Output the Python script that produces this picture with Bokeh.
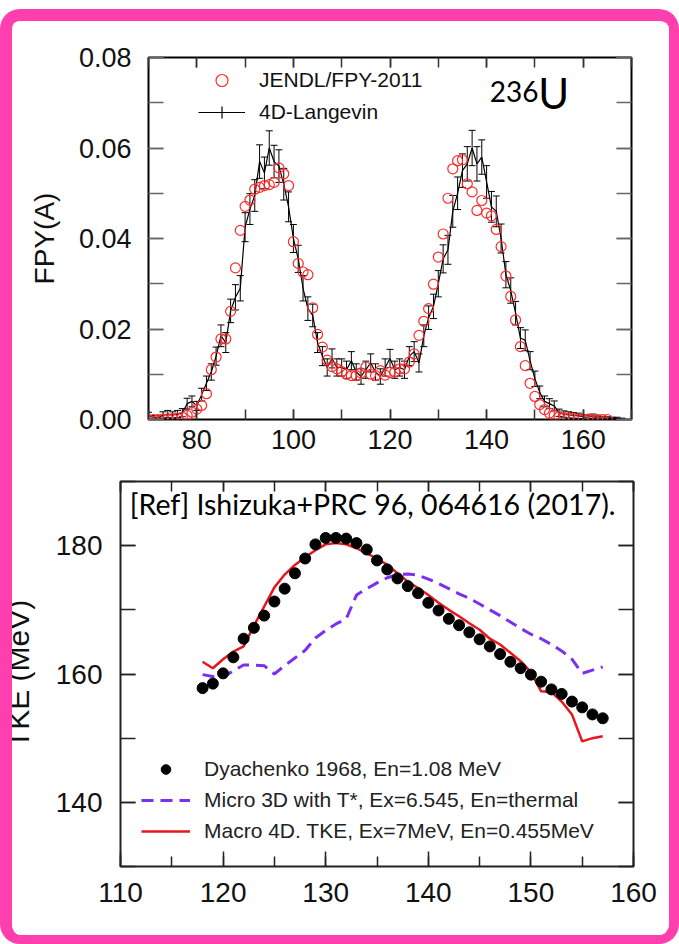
import numpy as np
from bokeh.plotting import figure
from bokeh.layouts import column
from bokeh.models import (LinearAxis, SingleIntervalTicker, Legend, LegendItem, Label,
                          ColumnDataSource, Whisker, TeeHead, NumeralTickFormatter,
                          Range1d, CustomJSTickFormatter)
from bokeh.embed import file_html
from bokeh.resources import INLINE

PINK = "#ff3fae"
FONT = "Liberation Sans"

# ---------------- top panel data: FPY(A) for 236U ----------------
jendl_A = list(range(70, 166))
jendl_fpy = [
    0.0000, 0.0000, 0.0000, 0.0001, 0.0001, 0.0002, 0.0003, 0.0005, 0.0009, 0.0016,   # 70-79
    0.0023, 0.0031, 0.0057, 0.0110, 0.0138, 0.0178, 0.0178, 0.0239, 0.0335, 0.0418,   # 80-89
    0.0471, 0.0485, 0.0509, 0.0513, 0.0517, 0.0519, 0.0524, 0.0556, 0.0543, 0.0517,   # 90-99
    0.0393, 0.0345, 0.0326, 0.0320, 0.0247, 0.0188, 0.0160, 0.0131, 0.0117, 0.0112,   # 100-109
    0.0106, 0.0100, 0.0097, 0.0097, 0.0103, 0.0116, 0.0100, 0.0097, 0.0108, 0.0098,   # 110-119
    0.0104, 0.0105, 0.0112, 0.0112, 0.0127, 0.0145, 0.0186, 0.0217, 0.0245, 0.0299,   # 120-129
    0.0359, 0.0410, 0.0489, 0.0554, 0.0572, 0.0574, 0.0521, 0.0503, 0.0462, 0.0484,   # 130-139
    0.0456, 0.0450, 0.0420, 0.0382, 0.0317, 0.0272, 0.0220, 0.0161, 0.0119, 0.0080,   # 140-149
    0.0051, 0.0033, 0.0022, 0.0014, 0.0009, 0.0006, 0.0004, 0.0003, 0.0002, 0.0001,   # 150-159
    0.0001, 0.0001, 0.0000, 0.0000, 0.0000, 0.0000,                                   # 160-165
]

lang_A = list(range(70, 169))
lang_fpy = [
    0.0008, 0.0004, 0.0003, 0.0010, 0.0012, 0.0010, 0.0012, 0.0015, 0.0035, 0.0040,   # 70-79
    0.0030, 0.0055, 0.0080, 0.0105, 0.0140, 0.0185, 0.0170, 0.0240, 0.0270, 0.0290,   # 80-89
    0.0425, 0.0465, 0.0495, 0.0570, 0.0545, 0.0600, 0.0570, 0.0560, 0.0520, 0.0470,   # 90-99
    0.0400, 0.0355, 0.0290, 0.0245, 0.0230, 0.0170, 0.0140, 0.0115, 0.0135, 0.0115,   # 100-109
    0.0115, 0.0110, 0.0130, 0.0105, 0.0095, 0.0110, 0.0125, 0.0105, 0.0095, 0.0115,   # 110-119
    0.0135, 0.0110, 0.0115, 0.0110, 0.0140, 0.0150, 0.0125, 0.0185, 0.0225, 0.0250,   # 120-129
    0.0300, 0.0355, 0.0375, 0.0460, 0.0500, 0.0550, 0.0565, 0.0600, 0.0565, 0.0580,   # 130-139
    0.0525, 0.0470, 0.0460, 0.0400, 0.0320, 0.0285, 0.0235, 0.0180, 0.0175, 0.0130,   # 140-149
    0.0090, 0.0060, 0.0040, 0.0035, 0.0030, 0.0015, 0.0012, 0.0010, 0.0009, 0.0008,   # 150-159
    0.0006, 0.0005, 0.0007, 0.0004, 0.0003, 0.0003, 0.0002, 0.0002, 0.0001,           # 160-168
]
lang_err = [
    0.0008, 0.0005, 0.0005, 0.0007, 0.0008, 0.0007, 0.0008, 0.0009,
    0.0012, 0.0012, 0.0010, 0.0014, 0.0016, 0.0018, 0.0020, 0.0024, 0.0022, 0.0026, 0.0028, 0.0028,
    0.0032, 0.0034, 0.0035, 0.0037, 0.0035, 0.0038, 0.0036, 0.0036, 0.0035, 0.0033,
    0.0031, 0.0030, 0.0028, 0.0026, 0.0025, 0.0022, 0.0021, 0.0019, 0.0021, 0.0019,
    0.0019, 0.0019, 0.0020, 0.0018, 0.0017, 0.0019, 0.0020, 0.0018, 0.0017, 0.0019, 0.0020, 0.0019, 0.0019, 0.0019,
    0.0021, 0.0022, 0.0020, 0.0024, 0.0026, 0.0027, 0.0029, 0.0031, 0.0032, 0.0035,
    0.0036, 0.0037, 0.0038, 0.0039, 0.0038, 0.0038, 0.0036, 0.0034, 0.0034, 0.0032,
    0.0029, 0.0028, 0.0026, 0.0023, 0.0023, 0.0020, 0.0017, 0.0014, 0.0012, 0.0011,
    0.0011, 0.0008, 0.0007, 0.0007, 0.0006, 0.0006, 0.0005, 0.0005, 0.0005, 0.0004, 0.0004,
    0.0003, 0.0003, 0.0003, 0.0002,
]

# ---------------- bottom panel data: TKE vs mass ----------------
tke_A = list(range(118, 158))
dyachenko_tke = [
    157.8, 158.5, 160.1, 162.6, 165.5, 167.2, 169.1, 171.3, 173.3, 175.7,   # 118-127
    178.0, 180.2, 181.2, 181.2, 181.1, 180.4, 179.4, 177.7, 176.3, 174.9,   # 128-137
    173.7, 172.6, 171.1, 169.9, 168.6, 167.6, 166.5, 165.4, 164.3, 163.1,   # 138-147
    161.9, 160.9, 159.9, 158.8, 157.6, 156.9, 155.7, 154.8, 153.7, 153.1,   # 148-157
]
micro3d_tke = [
    159.9, 159.6, 159.5, 160.5, 161.4, 161.4, 161.3, 160.0, 161.3, 162.5,   # 118-127
    163.7, 165.6, 166.8, 167.8, 168.6, 172.3, 173.3, 174.2, 175.0, 175.5,   # 128-137
    175.6, 175.4, 174.8, 174.1, 173.3, 172.5, 171.8, 170.9, 170.0, 169.1,   # 138-147
    168.1, 167.1, 166.2, 165.5, 164.6, 163.6, 162.3, 160.1, 160.6, 161.1,   # 148-157
]
macro4d_tke = [
    161.9, 160.9, 162.3, 163.5, 164.3, 167.5, 170.5, 173.5, 175.5, 177.0,   # 118-127
    178.2, 179.3, 180.2, 180.4, 180.2, 179.6, 178.8, 178.0, 177.0, 175.7,   # 128-137
    174.4, 173.4, 172.3, 171.1, 170.0, 169.0, 167.9, 166.9, 165.5, 164.6,   # 138-147
    163.3, 162.0, 160.3, 157.3, 157.2, 155.7, 153.7, 149.5, 150.0, 150.3,   # 148-157
]

top_xticks_interval = 20
top_yticks_interval = 0.02
bot_xticks_interval = 10
bot_yticks_interval = 20

blank = CustomJSTickFormatter(code="return ''")


def style_axis(ax, major_in, minor_in, color, labels=True, size="27px", standoff=12):
    ax.axis_line_color = None
    ax.major_tick_in = major_in
    ax.major_tick_out = 0
    ax.minor_tick_in = minor_in
    ax.minor_tick_out = 0
    ax.major_tick_line_color = color
    ax.minor_tick_line_color = color
    ax.major_tick_line_width = 1.5
    ax.minor_tick_line_width = 1.5
    if labels:
        ax.major_label_text_font = FONT
        ax.major_label_text_font_size = size
        ax.major_label_text_color = "#111111"
        ax.major_label_standoff = standoff
    else:
        ax.formatter = blank
        ax.major_label_standoff = 0


# ================= top figure =================
p1 = figure(width=657, height=449, x_range=Range1d(70, 170), y_range=Range1d(0, 0.08),
            output_backend="svg", toolbar_location=None,
            min_border_left=136, min_border_right=38, min_border_top=36, min_border_bottom=51)
p1.xgrid.grid_line_color = None
p1.ygrid.grid_line_color = None
p1.outline_line_color = "black"
p1.outline_line_width = 2
p1.outline_line_alpha = 1
p1.background_fill_color = "white"
p1.border_fill_color = "white"

p1.xaxis.ticker = SingleIntervalTicker(interval=top_xticks_interval, num_minor_ticks=2)
p1.yaxis.ticker = SingleIntervalTicker(interval=top_yticks_interval, num_minor_ticks=2)
p1.yaxis.formatter = NumeralTickFormatter(format="0.00")
style_axis(p1.xaxis[0], 10, 10, "#333333", standoff=10)
style_axis(p1.yaxis[0], 15, 15, "#666666", standoff=17)
p1.yaxis.axis_label = "FPY(A)"
p1.yaxis.axis_label_text_font = FONT
p1.yaxis.axis_label_text_font_size = "28px"
p1.yaxis.axis_label_text_font_style = "normal"
p1.yaxis.axis_label_text_color = "#111111"
p1.yaxis.axis_label_standoff = 16

ax_r1 = LinearAxis(ticker=SingleIntervalTicker(interval=top_yticks_interval, num_minor_ticks=2))
style_axis(ax_r1, 15, 15, "#666666", labels=False)
p1.add_layout(ax_r1, "right")
ax_t1 = LinearAxis(ticker=SingleIntervalTicker(interval=top_xticks_interval, num_minor_ticks=2))
style_axis(ax_t1, 10, 10, "#333333", labels=False)
p1.add_layout(ax_t1, "above")

src_j = ColumnDataSource(dict(A=jendl_A, fpy=jendl_fpy))
src_l = ColumnDataSource(dict(
    A=lang_A, fpy=lang_fpy,
    lower=[v - e for v, e in zip(lang_fpy, lang_err)],
    upper=[v + e for v, e in zip(lang_fpy, lang_err)],
))

whisk = Whisker(source=src_l, base="A", upper="upper", lower="lower", dimension="height",
                line_color="black", line_width=1,
                upper_head=TeeHead(size=7, line_color="black", line_width=1),
                lower_head=TeeHead(size=7, line_color="black", line_width=1))
p1.add_layout(whisk)
r_lang = p1.line("A", "fpy", source=src_l, line_color="black", line_width=1.2)
r_jendl = p1.scatter("A", "fpy", source=src_j, marker="circle", size=10,
                     fill_color=None, line_color="#ff2a2a", line_width=1.2)
r_cross = p1.scatter(x=[np.nan], y=[np.nan], marker="cross", line_color="black", line_width=1.2)

leg1 = Legend(items=[LegendItem(label="JENDL/FPY-2011", renderers=[r_jendl]),
                     LegendItem(label="4D-Langevin", renderers=[r_lang, r_cross])],
              location=(50, 292), orientation="vertical",
              glyph_width=47, glyph_height=30, label_height=30, spacing=2,
              label_standoff=14, padding=0, margin=0,
              border_line_color=None, background_fill_alpha=0,
              label_text_font=FONT, label_text_font_size="21px", label_text_color="#111111")
p1.add_layout(leg1)

p1.add_layout(Label(x=140.67, y=0.0701, text="236", text_font="Lato", text_font_size="28px",
                    text_color="black"))
p1.add_layout(Label(x=150.7, y=0.0667, text="U", text_font="Lato", text_font_size="42px",
                    text_color="black"))

# ================= bottom figure =================
p2 = figure(width=671, height=465, x_range=Range1d(110, 160), y_range=Range1d(130, 190),
            output_backend="svg", toolbar_location=None,
            min_border_left=122, min_border_right=36, min_border_top=11, min_border_bottom=69,
            styles={"margin-left": "-14px", "min-width": "671px", "max-width": "none",
                    "flex-shrink": "0"})
p2.xgrid.grid_line_color = None
p2.ygrid.grid_line_color = None
p2.outline_line_color = "#222222"
p2.outline_line_width = 2
p2.outline_line_alpha = 1
p2.background_fill_color = "white"
p2.border_fill_color = "white"

p2.xaxis.ticker = SingleIntervalTicker(interval=bot_xticks_interval, num_minor_ticks=2)
p2.yaxis.ticker = SingleIntervalTicker(interval=bot_yticks_interval, num_minor_ticks=2)
style_axis(p2.xaxis[0], 15, 10, "#222222", size="28px", standoff=16)
style_axis(p2.yaxis[0], 15, 15, "#222222", size="28px", standoff=18)
p2.yaxis.axis_label = "TKE (MeV)"
p2.yaxis.axis_label_text_font = FONT
p2.yaxis.axis_label_text_font_size = "30px"
p2.yaxis.axis_label_text_font_style = "normal"
p2.yaxis.axis_label_text_color = "#111111"
p2.yaxis.axis_label_standoff = 18

ax_r2 = LinearAxis(ticker=SingleIntervalTicker(interval=bot_yticks_interval, num_minor_ticks=2))
style_axis(ax_r2, 15, 15, "#222222", labels=False)
p2.add_layout(ax_r2, "right")
ax_t2 = LinearAxis(ticker=SingleIntervalTicker(interval=bot_xticks_interval, num_minor_ticks=2))
style_axis(ax_t2, 10, 10, "#222222", labels=False)
p2.add_layout(ax_t2, "above")

src_t = ColumnDataSource(dict(A=tke_A, dya=dyachenko_tke, micro=micro3d_tke, macro=macro4d_tke))
r_micro = p2.line("A", "micro", source=src_t, line_color="#7b2ff0", line_width=3,
                  line_dash="12 7")
r_macro = p2.line("A", "macro", source=src_t, line_color="#e8161c", line_width=2.5)
r_dya = p2.scatter("A", "dya", source=src_t, marker="circle", size=11,
                   fill_color="black", line_color="black")

leg2 = Legend(items=[LegendItem(label="Dyachenko 1968, En=1.08 MeV", renderers=[r_dya]),
                     LegendItem(label="Micro 3D with T*, Ex=6.545, En=thermal", renderers=[r_micro]),
                     LegendItem(label="Macro 4D. TKE, Ex=7MeV, En=0.455MeV", renderers=[r_macro])],
              location=(21, 23), orientation="vertical",
              glyph_width=49, glyph_height=24, label_height=24, spacing=7,
              label_standoff=14, padding=0, margin=0,
              border_line_color=None, background_fill_alpha=0,
              label_text_font=FONT, label_text_font_size="21px", label_text_color="#222222")
p2.add_layout(leg2)

p2.add_layout(Label(x=110.9, y=183.8, text="[Ref] Ishizuka+PRC 96, 064616 (2017).",
                    text_font="Lato", text_font_size="28.5px", text_color="black"))

root_top = column(p1, width=657, height=449, styles={
    "box-sizing": "content-box",
    "border-style": "solid",
    "border-color": PINK,
    "border-width": "12px 10px 0px 12px",
    "border-radius": "20px 20px 0px 0px",
    "overflow": "hidden",
    "margin-top": "9px",
    "background-color": "white",
})
root_bot = column(p2, width=657, height=465, styles={
    "box-sizing": "content-box",
    "border-style": "solid",
    "border-color": PINK,
    "border-width": "0px 10px 9px 12px",
    "border-radius": "0px 0px 20px 20px",
    "overflow": "hidden",
    "background-color": "white",
})

open("out.html", "w").write(file_html([root_top, root_bot], INLINE))
